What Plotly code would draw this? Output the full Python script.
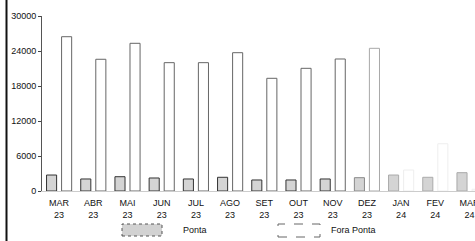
import plotly.graph_objects as go

months = ["MAR", "ABR", "MAI", "JUN", "JUL", "AGO", "SET", "OUT", "NOV", "DEZ", "JAN", "FEV", "MAR"]
years = ["23", "23", "23", "23", "23", "23", "23", "23", "23", "23", "24", "24", "24"]
ponta = [2740, 2060, 2450, 2230, 2060, 2350, 1890, 1890, 2060, 2280, 2740, 2350, 3140]
fora_ponta = [26450, 22580, 25320, 22000, 22000, 23710, 19320, 21030, 22630, 24460, 3600, 8100, 300]
y_ticks = [0, 6000, 12000, 18000, 24000, 30000]

labels = [f"{m}<br>{y}" for m, y in zip(months, years)]
# the scan fades towards the right: the last fora-ponta outlines are barely visible
fora_line_colors = ["#666666"] * 9 + ["#a8a8a8", "#eeeeee", "#eeeeee", "#eeeeee"]
ponta_line_colors = ["#333333"] * 9 + ["#888888", "#aaaaaa", "#aaaaaa", "#aaaaaa"]

FONT = "Liberation Sans, Arial, sans-serif"

fig = go.Figure()
fig.add_trace(go.Bar(
    x=labels, y=ponta, name="Ponta",
    marker=dict(
        color="#dcdcdc",
        line=dict(color=ponta_line_colors, width=1),
        pattern=dict(shape=".", fgcolor="#808080", bgcolor="#e6e6e6", size=2, solidity=0.35),
    ),
    showlegend=False,
))
fig.add_trace(go.Bar(
    x=labels, y=fora_ponta, name="Fora Ponta",
    marker=dict(color="rgba(255,255,255,0)", line=dict(color=fora_line_colors, width=1)),
    showlegend=False,
))

L, T, B, W, H = 42, 16, 50, 475, 241
pw = W - L
ph = H - T - B

def px(x):
    return (x - L) / pw

def py(y):
    return (H - B - y) / ph

shapes = [
    # page border on the far left
    dict(type="line", xref="paper", yref="paper", x0=px(6.5), x1=px(6.5), y0=py(241), y1=py(0),
         line=dict(color="#111111", width=2)),
    # legend swatches
    dict(type="rect", xref="paper", yref="paper", x0=px(122), x1=px(162), y0=py(236), y1=py(224),
         fillcolor="#d2d2d2", line=dict(color="#555555", width=1, dash="dot")),
    dict(type="rect", xref="paper", yref="paper", x0=px(278), x1=px(320), y0=py(237), y1=py(224),
         fillcolor="white", line=dict(color="#666666", width=1, dash="dash")),
]
annotations = [
    dict(text="Ponta", xref="paper", yref="paper", x=px(181), y=py(230), xanchor="left", yanchor="middle",
         showarrow=False, font=dict(family=FONT, size=9, color="#111111")),
    dict(text="Fora Ponta", xref="paper", yref="paper", x=px(329), y=py(230), xanchor="left", yanchor="middle",
         showarrow=False, font=dict(family=FONT, size=9, color="#111111")),
]

fig.update_layout(
    width=W, height=H,
    margin=dict(l=L, r=0, t=T, b=B, pad=0, autoexpand=False),
    paper_bgcolor="white", plot_bgcolor="white",
    barmode="group", bargap=0.12, bargroupgap=0.33,
    font=dict(family=FONT, size=9, color="#111111"),
    shapes=shapes, annotations=annotations,
    showlegend=False,
)
fig.update_xaxes(
    range=[-0.5, 12.16], showgrid=False, zeroline=False, automargin=False,
    showline=True, linecolor="#cccccc", linewidth=1,
    ticks="", ticklabelstandoff=3,
    tickfont=dict(family=FONT, size=9, color="#111111"),
)
fig.update_yaxes(
    range=[0, 30000], tickvals=y_ticks, ticktext=[str(v) for v in y_ticks],
    showgrid=False, zeroline=False, automargin=False,
    showline=True, linecolor="#555555", linewidth=1,
    ticks="outside", ticklen=3, tickcolor="#444444",
    tickfont=dict(family=FONT, size=9, color="#111111"),
)

fig.write_html(
    "out.html",
    config={"displayModeBar": False, "staticPlot": True},
    post_script="document.body.style.margin='0';document.body.style.overflow='hidden';",
)
